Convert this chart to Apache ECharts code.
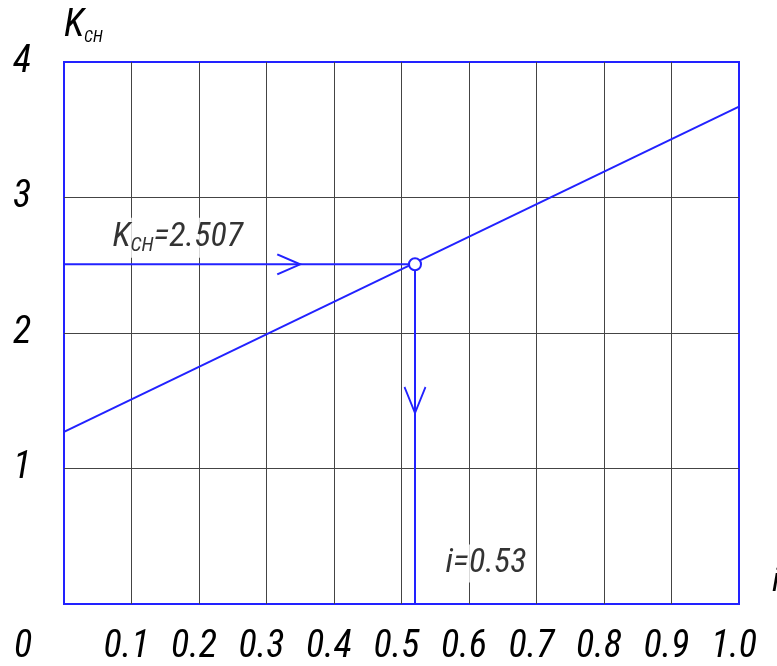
<!DOCTYPE html>
<html>
<head>
<meta charset="utf-8">
<script src="https://cdn.jsdelivr.net/npm/echarts@6/dist/echarts.min.js"></script>
<style>
  html, body { margin: 0; padding: 0; background: #fff; }
  #chart { width: 777px; height: 666px; }
</style>
</head>
<body>
<div id="chart"></div>
<script>
// ---- data ----
const lineI = [0, 1.0];          // i at the two ends of the characteristic line
const lineK = [1.27, 3.67];      // K_CH at those ends
const kValue = 2.507;            // read-off value of K_CH
const iPoint = 0.52;             // i where K_CH = 2.507 (position on the chart)
const iLabelText = '0.53';       // value written on the chart
const arrowHorizontal = [0.35, 2.507];  // tip of the horizontal arrow
const arrowVertical = [0.52, 1.41];     // tip of the vertical arrow
const xTickLabels = ['0.1','0.2','0.3','0.4','0.5','0.6','0.7','0.8','0.9','1.0'];
const yTickLabels = ['1','2','3','4'];

const BLUE = '#2222ff';
const FONT = "'Roboto Condensed', 'DejaVu Sans Condensed', sans-serif";

const chart = echarts.init(document.getElementById('chart'));

const option = {
  animation: false,
  textStyle: { fontFamily: FONT, fontStyle: 'italic', color: '#000' },
  grid: {
    left: 64, right: 38, top: 62, bottom: 62,
    outerBoundsMode: 'none', containLabel: false,
    show: true, borderColor: BLUE, borderWidth: 2, backgroundColor: '#fff'
  },
  xAxis: {
    type: 'value', min: 0, max: 1, interval: 0.1,
    axisLine: { show: false }, axisTick: { show: false },
    axisLabel: {
      margin: 24, fontSize: 38, fontFamily: FONT, fontStyle: 'italic', color: '#000',
      padding: [0, 10, 0, 0],
      formatter: function (v) {
        const idx = Math.round(v * 10) - 1;
        return idx >= 0 ? xTickLabels[idx] : '';
      }
    },
    splitLine: { show: true, showMinLine: false, showMaxLine: false,
      lineStyle: { color: '#444', width: 1 } }
  },
  yAxis: {
    type: 'value', min: 0, max: 4, interval: 1,
    name: '{k|K}{s|CH}', nameLocation: 'end', nameGap: 16,
    nameTextStyle: {
      align: 'left', verticalAlign: 'bottom',
      rich: {
        k: { fontFamily: FONT, fontStyle: 'italic', fontSize: 38, lineHeight: 40, color: '#000' },
        s: { fontFamily: FONT, fontStyle: 'italic', fontSize: 16, lineHeight: 24, verticalAlign: 'bottom', color: '#000' }
      }
    },
    axisLine: { show: false }, axisTick: { show: false },
    axisLabel: {
      margin: 42, align: 'center', fontSize: 38, fontFamily: FONT, fontStyle: 'italic', color: '#000',
      formatter: function (v) {
        const idx = Math.round(v) - 1;
        return idx >= 0 ? yTickLabels[idx] : '';
      }
    },
    splitLine: { show: true, showMinLine: false, showMaxLine: false,
      lineStyle: { color: '#444', width: 1 } }
  },
  graphic: [
    { type: 'text', left: 14, top: 628,
      style: { text: '0', fontFamily: FONT, fontStyle: 'italic', fontSize: 38, fill: '#000' } },
    { type: 'text', left: 772, top: 565,
      style: { text: 'i', fontFamily: FONT, fontStyle: 'italic', fontSize: 34, fill: '#000' } }
  ],
  series: [
    {
      type: 'line', symbol: 'none', z: 3,
      data: lineI.map((x, i) => [x, lineK[i]]),
      lineStyle: { color: BLUE, width: 2 }
    },
    {
      type: 'line', symbol: 'none', z: 3,
      data: [[0, kValue], [iPoint, kValue]],
      lineStyle: { color: BLUE, width: 2 }
    },
    {
      type: 'line', symbol: 'none', z: 3,
      data: [[iPoint, kValue], [iPoint, 0]],
      lineStyle: { color: BLUE, width: 2 }
    },
    {
      type: 'scatter', z: 4, silent: true,
      symbol: 'path://M0,0L23,10L0,20', symbolSize: [23, 20], symbolOffset: [-11.5, 0],
      itemStyle: { color: 'none', borderColor: BLUE, borderWidth: 2, opacity: 1 },
      data: [arrowHorizontal]
    },
    {
      type: 'scatter', z: 4, silent: true,
      symbol: 'path://M0,0L10,26L20,0', symbolSize: [21, 26], symbolOffset: [0, -13],
      itemStyle: { color: 'none', borderColor: BLUE, borderWidth: 2, opacity: 1 },
      data: [arrowVertical]
    },
    {
      type: 'scatter', z: 6, silent: true,
      symbol: 'circle', symbolSize: 12,
      itemStyle: { color: '#fff', borderColor: BLUE, borderWidth: 2, opacity: 1 },
      data: [[iPoint, kValue]]
    },
    {
      type: 'scatter', z: 2, silent: true, symbolSize: 1,
      itemStyle: { color: 'transparent' },
      data: [[0, kValue]],
      label: {
        show: true, position: [46, -46],
        backgroundColor: '#fff', padding: [2, 3, 2, 3],
        formatter: function () { return '{k|K}{s|CH}{v|=' + kValue + '}'; },
        rich: {
          k: { fontFamily: FONT, fontStyle: 'italic', fontSize: 34, lineHeight: 36, color: '#000' },
          s: { fontFamily: FONT, fontStyle: 'italic', fontSize: 20, lineHeight: 25, verticalAlign: 'bottom', color: '#000' },
          v: { fontFamily: FONT, fontStyle: 'italic', fontSize: 34, lineHeight: 36, color: '#000' }
        }
      }
    },
    {
      type: 'scatter', z: 2, silent: true, symbolSize: 1,
      itemStyle: { color: 'transparent' },
      data: [[iPoint, 0]],
      label: {
        show: true, position: [28, -59],
        backgroundColor: '#fff', padding: [2, 3, 2, 3],
        fontFamily: FONT, fontStyle: 'italic', fontSize: 34, lineHeight: 34, color: '#000',
        formatter: function () { return 'i=' + iLabelText; }
      }
    }
  ]
};

chart.setOption(option);
</script>
</body>
</html>
